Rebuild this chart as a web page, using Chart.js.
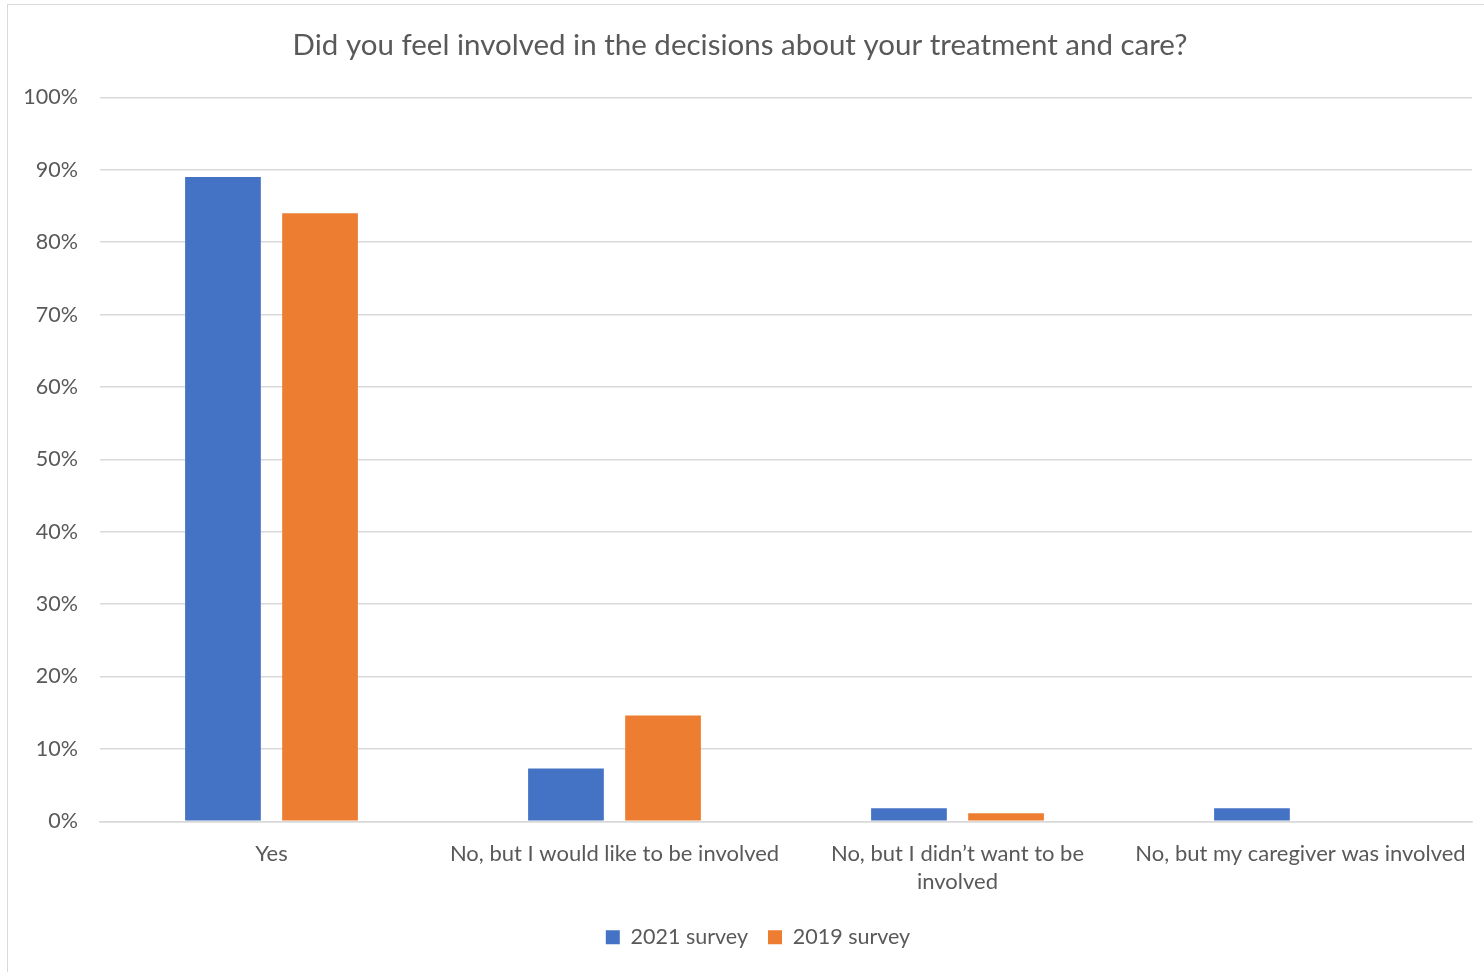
<!DOCTYPE html>
<html>
<head>
<meta charset="utf-8">
<script src="https://cdn.jsdelivr.net/npm/chart.js@4"></script>
<style>
  html, body { margin: 0; padding: 0; background: #fff; overflow: hidden; }
  #box {
    position: absolute; left: 7px; top: 4px;
    width: 1494px; height: 990px;
    border: 1.5px solid #d9d9d9; box-sizing: border-box;
  }
</style>
</head>
<body>
<div id="box"><canvas id="chart"></canvas></div>
<script>
// Chart data
const categories = [
  'Yes',
  'No, but I would like to be involved',
  ['No, but I didn\u2019t want to be', 'involved'],
  'No, but my caregiver was involved'
];
const survey2021 = [89, 7.3, 1.8, 1.8];
const survey2019 = [84, 14.6, 1.1, 0];
const yTicks = [0, 10, 20, 30, 40, 50, 60, 70, 80, 90, 100];

const FONT = 'Lato, "Open Sans", sans-serif';
const GREY = '#595959';
const GRID = '#d9d9d9';

// legend is centred on the whole box in the original, not the padded area
const legendShift = {
  id: 'legendShift',
  afterLayout(chart) {
    const lg = chart.legend;
    if (lg) { lg.left += 18; lg.right += 18; }
  }
};

const ctx = document.getElementById('chart');
new Chart(ctx.getContext('2d'), {
  type: 'bar',
  data: {
    labels: categories,
    datasets: [
      { label: '2021 survey', data: survey2021, backgroundColor: '#4472C4' },
      { label: '2019 survey', data: survey2019, backgroundColor: '#ED7D31' }
    ]
  },
  plugins: [legendShift],
  options: {
    responsive: true,
    maintainAspectRatio: false,
    animation: false,
    categoryPercentage: 0.566,
    barPercentage: 0.78,
    layout: { padding: { left: 0, right: 28, top: 14, bottom: 35 } },
    plugins: {
      title: {
        display: true,
        text: 'Did you feel involved in the decisions about your treatment and care?',
        color: GREY,
        font: { family: FONT, size: 29.5, weight: 'normal' },
        padding: { top: 9, bottom: 34 }
      },
      legend: {
        position: 'bottom',
        labels: {
          color: GREY,
          font: { family: FONT, size: 21.5 },
          boxWidth: 14, boxHeight: 14,
          padding: 20
        }
      },
      tooltip: { enabled: false }
    },
    scales: {
      x: {
        grid: { display: false },
        border: { color: GRID, width: 1.5 },
        ticks: {
          color: GREY,
          font: { family: FONT, size: 22, lineHeight: 1.3 },
          maxRotation: 0,
          autoSkip: false,
          padding: 10
        }
      },
      y: {
        min: 0, max: 100,
        afterBuildTicks: s => { s.ticks = yTicks.map(v => ({ value: v })); },
        afterFit: s => { s.width = 92; },
        grid: { color: GRID, lineWidth: 1.5, drawTicks: false },
        border: { display: false },
        ticks: {
          color: GREY,
          font: { family: FONT, size: 21.5 },
          padding: 22,
          callback: v => v + '%'
        }
      }
    }
  }
});
</script>
</body>
</html>
